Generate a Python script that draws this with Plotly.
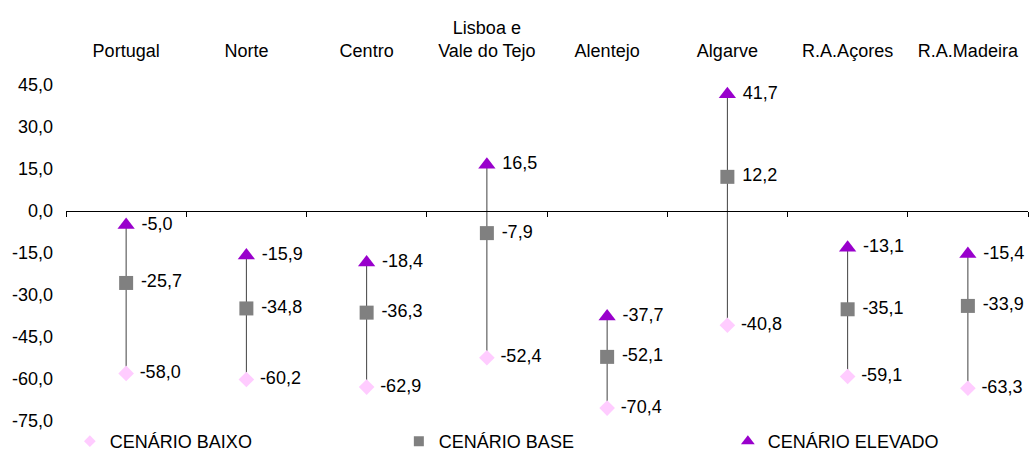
"""Cenários por região — gráfico de máximos/mínimos com três cenários."""

import plotly.graph_objects as go

regioes = ["Portugal", "Norte", "Centro", "Lisboa e<br>Vale do Tejo", "Alentejo",
           "Algarve", "R.A.Açores", "R.A.Madeira"]
cenario_baixo = [-58.0, -60.2, -62.9, -52.4, -70.4, -40.8, -59.1, -63.3]
cenario_base = [-25.7, -34.8, -36.3, -7.9, -52.1, 12.2, -35.1, -33.9]
cenario_elevado = [-5.0, -15.9, -18.4, 16.5, -37.7, 41.7, -13.1, -15.4]
y_ticks = [45, 30, 15, 0, -15, -30, -45, -60, -75]

FONT = "Liberation Sans, Arial, sans-serif"
FS = 18


def pt(v):
    return f"{v:.1f}".replace(".", ",")


pos = list(range(len(regioes)))

# linhas máximo-mínimo (uma por região)
lx, ly = [], []
for i, lo, hi in zip(pos, cenario_baixo, cenario_elevado):
    lx += [i, i, None]
    ly += [min(lo, hi), max(lo, hi), None]

fig = go.Figure()
fig.add_trace(go.Scatter(x=lx, y=ly, mode="lines", line={"color": "#404040", "width": 1},
                         showlegend=False, hoverinfo="skip", cliponaxis=False))

# uma legenda por série, para controlar a posição de cada entrada
series = [
    ("CENÁRIO BAIXO", cenario_baixo, "diamond", "#FFCCFF", 12, 9, "legend", 0.004),
    ("CENÁRIO BASE", cenario_base, "square", "#808080", 14, 10, "legend2", 0.346),
    ("CENÁRIO ELEVADO", cenario_elevado, "triangle-up", "#9900CC", 15, 12, "legend3", 0.688),
]
legends = {}
for name, vals, sym, col, size, lsize, leg, lx0 in series:
    fig.add_trace(go.Scatter(
        x=pos, y=vals, mode="markers+text", name=name, showlegend=False,
        marker={"symbol": sym, "color": col, "size": size},
        text=[" " + pt(v) for v in vals], textposition="middle right",
        textfont={"family": FONT, "size": FS, "color": "black"},
        cliponaxis=False,
    ))
    # entrada de legenda com marcador menor
    fig.add_trace(go.Scatter(
        x=[None], y=[None], mode="markers", name=name, legend=leg,
        marker={"symbol": sym, "color": col, "size": lsize},
    ))
    legends[leg] = {"orientation": "h", "x": lx0, "xanchor": "left",
                    "y": -0.006, "yanchor": "top", "itemwidth": 30,
                    "font": {"family": FONT, "size": FS}}

fig.update_layout(
    width=1029, height=453,
    margin={"l": 66, "r": 1, "t": 85, "b": 32, "autoexpand": False},
    paper_bgcolor="white", plot_bgcolor="white",
    font={"family": FONT, "size": FS, "color": "black"},
    showlegend=True,
    **legends,
    xaxis={"range": [-0.5, len(regioes) - 0.5], "side": "top", "automargin": False,
           "tickvals": pos, "ticktext": regioes, "ticks": "",
           "showline": False, "showgrid": False, "zeroline": False,
           "ticklabelstandoff": 23},
    xaxis2={"range": [-0.5, len(regioes) - 0.5], "overlaying": "x", "anchor": "free",
            "position": 0.625, "side": "bottom", "automargin": False,
            "tickvals": [i - 0.5 for i in range(len(regioes) + 1)],
            "ticks": "outside", "ticklen": 5, "tickcolor": "black",
            "showticklabels": False, "showline": True, "linecolor": "black",
            "linewidth": 1, "showgrid": False, "zeroline": False},
    yaxis={"range": [-75, 45], "tickvals": y_ticks, "ticktext": [pt(v) for v in y_ticks],
           "showgrid": False, "zeroline": False, "showline": False, "ticks": "",
           "ticklabelstandoff": 12, "automargin": False},
)
# traço invisível para ativar o eixo xaxis2
fig.add_trace(go.Scatter(x=[None], y=[None], xaxis="x2", showlegend=False, hoverinfo="skip"))

# sem a margem de 8px do body, a figura ocupa a janela inteira
fig.write_html("out.html", config={"displayModeBar": False},
               post_script="document.body.style.margin='0';")
